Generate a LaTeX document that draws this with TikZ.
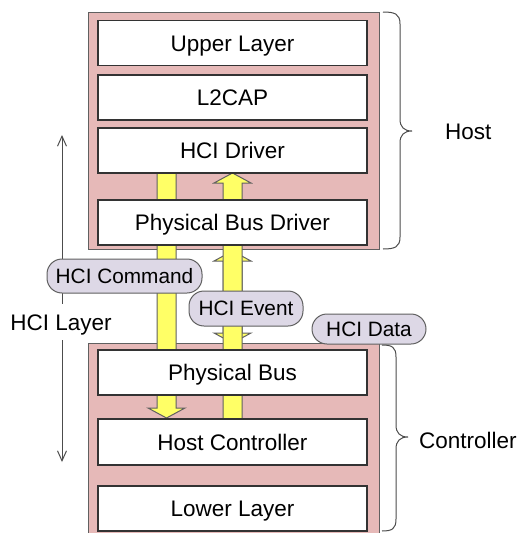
\documentclass[tikz,border=0pt]{standalone}
\usepackage{fontspec}
\setmainfont{Liberation Sans}
\usetikzlibrary{arrows.meta}
\definecolor{pinkbg}{HTML}{E6B9B8}
\definecolor{lavbg}{HTML}{DDD8E6}
\definecolor{yelbg}{HTML}{FFFF66}
\definecolor{edgegray}{HTML}{606060}
\newcommand{\fatdn}[4]{\draw[fatarrow] (#1-9.5,#2) -- (#1+9.5,#2) -- (#1+9.5,#3) -- (#1+18.5,#3) -- (#1,#4) -- (#1-18.5,#3) -- (#1-9.5,#3) -- cycle;}
\tikzset{
  container/.style={draw=edgegray, line width=1pt, fill=pinkbg},
  layerbox/.style={draw=black!80, line width=1.2pt, fill=white, minimum width=269pt, minimum height=45pt, inner sep=0pt, text height=16.1pt, text depth=0pt, font=\fontsize{22.5}{26}\selectfont},
  fatarrow/.style={draw=edgegray, line width=1pt, fill=yelbg},
  tag/.style={draw=edgegray, line width=1pt, fill=lavbg, rounded corners=15pt, inner sep=0pt, text height=14.9pt, text depth=0pt, font=\fontsize{20.8}{24}\selectfont},
  sidetext/.style={font=\fontsize{22.5}{26}\selectfont, inner sep=0pt, text height=16.1pt, text depth=0pt},
  bracepath/.style={draw=black!70, line width=1pt},
  layerarrow/.style={draw=black!70, line width=1pt}
}
\begin{document}
\begin{tikzpicture}[x=1pt,y=-1pt]
\useasboundingbox (0,0) rectangle (521,533);
% containers
\draw[container] (88,12) rectangle (379,249);
\draw[container] (88,343) rectangle (379,548);
% double data arrow between containers
\draw[fatarrow] (232.5,251) -- (251,261) -- (242,261) -- (242,333) -- (251,333) -- (232.5,343) -- (214,333) -- (223,333) -- (223,261) -- (214,261) -- cycle;
% command arrow (down) and event arrow (up)
\fatdn{166.5}{173}{408}{418}
\draw[fatarrow] (223,419) -- (242,419) -- (242,183) -- (251,183) -- (232.5,173) -- (214,183) -- (223,183) -- cycle;
% layer boxes
\node[layerbox] (upper) at (232.5,43) {Upper Layer};
\node[layerbox] (l2cap) at (232.5,97.5) {L2CAP};
\node[layerbox] (drv) at (232.5,150.5) {HCI Driver};
\node[layerbox] (pbd) at (232.5,222.5) {Physical Bus Driver};
\node[layerbox] (pbus) at (232.5,372.5) {Physical Bus};
\node[layerbox, minimum height=46pt] (hc) at (232.5,442) {Host Controller};
\node[layerbox] (lower) at (232.5,508.5) {Lower Layer};
% HCI layer arrow
\node[sidetext, inner ysep=10pt] (hcil) at (61,322) {HCI Layer};
\coordinate (laytop) at (62,135);
\coordinate (laybot) at (62,462);
\draw[layerarrow, -{Straight Barb[length=10pt,width=9pt]}] (hcil.north -| laytop) -- (laytop);
\draw[layerarrow, -{Straight Barb[length=10pt,width=9pt]}] (hcil.south -| laybot) -- (laybot);
% tags
\node[tag, minimum width=155pt, minimum height=34pt] (cmd) at (124.5,276) {HCI Command};
\node[tag, minimum width=114pt, minimum height=35pt] (evt) at (246,308.5) {HCI Event};
\node[tag, minimum width=114pt, minimum height=30pt] (dat) at (369,329) {HCI Data};
% braces
\draw[bracepath] (383,12) .. controls (395,12) and (400,14) .. (400,24) -- (400,119) .. controls (400,127) and (404,131) .. (412,131) .. controls (404,131) and (400,135) .. (400,143) -- (400,237) .. controls (400,247) and (395,249) .. (383,249);
\draw[bracepath] (382,345) .. controls (392,345) and (396,347) .. (396,357) -- (396,425) .. controls (396,433) and (400,437) .. (408,437) .. controls (400,437) and (396,441) .. (396,449) -- (396,519) .. controls (396,529) and (392,531) .. (382,531);
\node[sidetext, anchor=west] (host) at (445,131) {Host};
\node[sidetext, anchor=west] (ctrl) at (419,440) {Controller};
\end{tikzpicture}
\end{document}
